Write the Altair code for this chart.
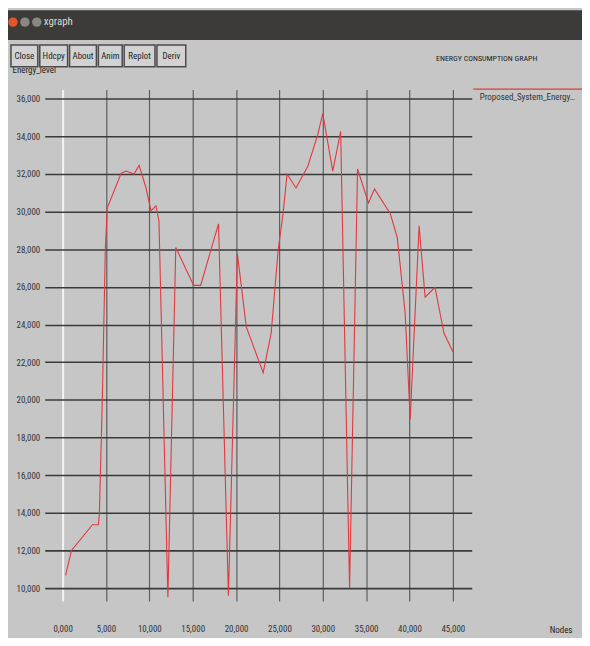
import altair as alt
import pandas as pd

# ---- data ----
NODES = [340, 1030, 3440, 4120, 4240, 4580, 4920, 5150, 6760, 7330, 8240, 8820,
         9620, 10190, 10760, 11110, 12140, 13050, 15110, 15920, 17980, 19120,
         20150, 21180, 23130, 24050, 24850, 25420, 25880, 26910, 28280, 29430,
         30000, 31150, 32060, 33090, 34010, 35270, 35960, 37790, 38590, 39500,
         40080, 41110, 41800, 42940, 43970, 45000]
ENERGY = [10680, 12000, 13370, 13370, 13950, 20020, 27930, 30200, 32040, 32150,
          31990, 32450, 31250, 30040, 30300, 29510, 9520, 28090, 26080, 26080,
          29350, 9600, 27770, 23870, 21440, 23550, 27930, 29880, 31990, 31250,
          32410, 34100, 35210, 32150, 34260, 10000, 32260, 30460, 31200, 29880,
          28620, 24610, 18960, 29250, 25450, 25980, 23550, 22550]
SERIES = "Proposed_System_Energy_consumption"
Y_TICKS = [10000, 12000, 14000, 16000, 18000, 20000, 22000, 24000, 26000,
           28000, 30000, 32000, 34000, 36000]
X_TICKS = [0, 5000, 10000, 15000, 20000, 25000, 30000, 35000, 40000, 45000]
BUTTONS = ["Close", "Hdcpy", "About", "Anim", "Replot", "Deriv"]
TITLE = "ENERGY CONSUMPTION GRAPH"
WINDOW_TITLE = "xgraph"
X_TITLE = "Nodes"
Y_TITLE = "Energy_level"

FONT = "Liberation Sans Narrow, Roboto Condensed, Roboto, sans-serif"
BG = "#c6c6c6"
RED = "#e0393e"

df = pd.DataFrame({"Nodes": NODES, "Energy": ENERGY, "series": [SERIES] * len(NODES)})

line = alt.Chart(df).mark_line(strokeWidth=1.1).encode(
    x=alt.X(
        "Nodes:Q",
        scale=alt.Scale(domain=[-2060, 47180], nice=False, zero=False),
        axis=alt.Axis(
            values=X_TICKS,
            labelExpr="datum.value === 0 ? '0,000' : format(datum.value, ',')",
            domain=False, ticks=False, labelPadding=24, labelBaseline="top",
            labelFont=FONT, labelFontSize=9, labelColor="#333",
            gridColor={"condition": {"test": "datum.value === 0", "value": "#f4f4f4"}, "value": "#5e5e5e"},
            gridWidth={"condition": {"test": "datum.value === 0", "value": 2}, "value": 1.2},
            title=X_TITLE, titleX=508, titleY=29, titleAlign="left", titleBaseline="middle",
            titleFont=FONT, titleFontSize=9, titleFontWeight="normal", titleColor="#222",
        ),
    ),
    y=alt.Y(
        "Energy:Q",
        scale=alt.Scale(domain=[9314, 36475], nice=False, zero=False),
        axis=alt.Axis(
            values=Y_TICKS, format=",d",
            domain=False, ticks=False, labelPadding=5,
            labelFont=FONT, labelFontSize=9, labelColor="#333",
            gridColor="#3a3a3a", gridWidth=1.6,
            title=Y_TITLE, titleAngle=0, titleX=-33, titleY=-20,
            titleAlign="left", titleBaseline="middle",
            titleFont=FONT, titleFontSize=9, titleFontWeight="normal", titleColor="#222",
        ),
    ),
    color=alt.Color(
        "series:N",
        scale=alt.Scale(range=[RED]),
        legend=alt.Legend(
            title=None, orient="none", legendX=429, legendY=3, padding=0,
            symbolType="M -1 -4 L 60 -4", symbolSize=16, symbolStrokeWidth=1.5,
            labelOffset=0, labelLimit=100, labelFont=FONT, labelFontSize=9,
            labelColor="#333",
        ),
    ),
)

one = pd.DataFrame({"k": [0]})


def rect(x, x2, y, y2, **kw):
    return alt.Chart(one).mark_rect(**kw).encode(
        x=alt.value(x), x2=alt.value(x2), y=alt.value(y), y2=alt.value(y2))


def label(text, x, y, **kw):
    return alt.Chart(one).mark_text(text=text, font=FONT, **kw).encode(
        x=alt.value(x), y=alt.value(y))


chrome = [rect(-37, 541, -80, -50, color="#3d3b37")]
for cx, col in zip([-32, -20, -8], ["#e2572b", "#8a8883", "#8a8883"]):
    chrome.append(alt.Chart(one).mark_circle(size=90, opacity=1, color=col).encode(
        x=alt.value(cx), y=alt.value(-68)))
chrome.append(label(WINDOW_TITLE, -1, -68, align="left", baseline="middle",
                    fontSize=11, color="#dcd8cf"))

button_edges = [(-34, -7), (-5, 23), (25, 52), (54, 78), (80, 111), (113, 142)]
for name, (l, r) in zip(BUTTONS, button_edges):
    chrome.append(rect(l, r, -45, -23, fill="#d2d2d2", stroke="#4a4a4a", strokeWidth=1.5))
    chrome.append(label(name, (l + r) / 2, -34, align="center", baseline="middle",
                        fontSize=9, color="#222"))

chart = alt.layer(line, *chrome).properties(
    width=430, height=515,
    autosize=alt.AutoSizeParams(type="none"),
    padding={"left": 37, "top": 80, "right": 111, "bottom": 35},
    background=BG,
    title=alt.TitleParams(TITLE, anchor="start", align="center", dx=482, dy=53, offset=0,
                          font=FONT, fontSize=8, fontWeight="normal", color="#222"),
).configure_view(strokeWidth=0)

chart.save("out.html", embed_options={"renderer": "svg", "actions": False})
